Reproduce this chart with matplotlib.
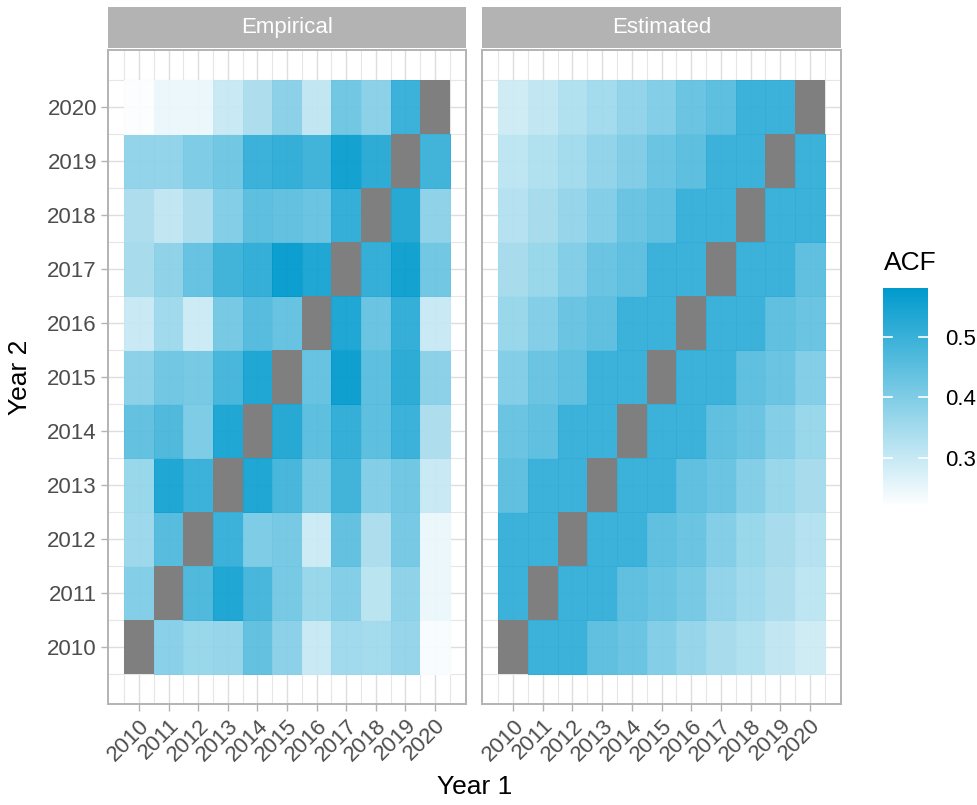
import numpy as np
import matplotlib.pyplot as plt
from matplotlib.colors import ListedColormap, LinearSegmentedColormap, Normalize
from matplotlib.cm import ScalarMappable

plt.rcParams['font.family'] = ['Liberation Sans', 'DejaVu Sans']

years = list(range(2010, 2021))
nan = np.nan

# rows = Year 2 (2010 at the bottom), columns = Year 1
empirical = [
    [nan, 0.395, 0.37, 0.375, 0.45, 0.39, 0.30, 0.36, 0.355, 0.375, 0.23],
    [0.40, nan, 0.48, 0.55, 0.49, 0.42, 0.37, 0.40, 0.32, 0.385, 0.25],
    [0.365, 0.47, nan, 0.51, 0.41, 0.42, 0.295, 0.45, 0.34, 0.42, 0.25],
    [0.37, 0.55, 0.51, nan, 0.55, 0.49, 0.42, 0.50, 0.40, 0.43, 0.30],
    [0.45, 0.48, 0.41, 0.55, nan, 0.54, 0.46, 0.52, 0.46, 0.51, 0.34],
    [0.39, 0.43, 0.42, 0.49, 0.55, nan, 0.445, 0.575, 0.46, 0.53, 0.39],
    [0.30, 0.36, 0.295, 0.42, 0.47, 0.445, nan, 0.55, 0.44, 0.52, 0.30],
    [0.35, 0.385, 0.445, 0.50, 0.52, 0.58, 0.55, nan, 0.52, 0.57, 0.43],
    [0.34, 0.31, 0.34, 0.40, 0.46, 0.45, 0.44, 0.52, nan, 0.54, 0.385],
    [0.38, 0.38, 0.41, 0.43, 0.51, 0.52, 0.50, 0.57, 0.53, nan, 0.50],
    [0.225, 0.25, 0.25, 0.30, 0.34, 0.39, 0.31, 0.43, 0.39, 0.51, nan],
]

estimated = [
    [nan, 0.51, 0.51, 0.455, 0.44, 0.40, 0.375, 0.35, 0.335, 0.31, 0.29],
    [0.51, nan, 0.51, 0.51, 0.455, 0.44, 0.42, 0.38, 0.36, 0.34, 0.315],
    [0.51, 0.51, nan, 0.51, 0.51, 0.455, 0.44, 0.40, 0.37, 0.35, 0.33],
    [0.455, 0.51, 0.51, nan, 0.51, 0.51, 0.455, 0.44, 0.40, 0.37, 0.35],
    [0.44, 0.455, 0.51, 0.51, nan, 0.51, 0.51, 0.455, 0.44, 0.40, 0.37],
    [0.40, 0.44, 0.455, 0.51, 0.51, nan, 0.51, 0.51, 0.455, 0.44, 0.40],
    [0.37, 0.40, 0.44, 0.455, 0.51, 0.51, nan, 0.51, 0.51, 0.455, 0.44],
    [0.35, 0.37, 0.40, 0.44, 0.455, 0.51, 0.51, nan, 0.51, 0.51, 0.455],
    [0.33, 0.35, 0.375, 0.40, 0.44, 0.455, 0.51, 0.51, nan, 0.51, 0.51],
    [0.315, 0.335, 0.355, 0.38, 0.405, 0.44, 0.46, 0.51, 0.51, nan, 0.51],
    [0.29, 0.31, 0.335, 0.355, 0.38, 0.40, 0.44, 0.46, 0.51, 0.51, nan],
]

panels = ['Empirical', 'Estimated']
legend_ticks = [0.3, 0.4, 0.5]

cmap = LinearSegmentedColormap.from_list('acf', ['#FFFFFF', '#009ACD'])

# scale runs a little below the smallest tile so no tile is pure white
allv = np.array(empirical + estimated, float)
norm = Normalize(vmin=0.219, vmax=np.nanmax(allv))

W, H = 977, 805
fig = plt.figure(figsize=(W / 100, H / 100), dpi=100)


def box(l, t, r, b):
    return [l / W, 1 - b / H, (r - l) / W, (b - t) / H]


edges = np.arange(2009.5, 2021.5, 1.0)
axes = [fig.add_axes(box(108, 50, 466, 704)), fig.add_axes(box(482, 50, 841, 704))]
strips = [box(108, 7, 466, 48), box(482, 7, 841, 48)]

for i, (ax, name, data) in enumerate(zip(axes, panels, [empirical, estimated])):
    z = np.array(data, float)
    ax.set_axisbelow(True)
    ax.set_xticks(years)
    ax.set_yticks(years)
    ax.set_xticks(edges, minor=True)
    ax.set_yticks(edges, minor=True)
    ax.grid(which='major', color='#DEDEDE', lw=1.0)
    ax.grid(which='minor', color='#E6E6E6', lw=0.8)
    ax.pcolormesh(edges, edges, np.ma.masked_invalid(z), cmap=cmap, norm=norm,
                  alpha=0.95, edgecolors='face', linewidth=0.4)
    na = np.where(np.isnan(z), 1.0, np.nan)
    ax.pcolormesh(edges, edges, np.ma.masked_invalid(na), cmap=ListedColormap(['#7F7F7F']))
    ax.set_xlim(2008.95, 2021.05)
    ax.set_ylim(2008.95, 2021.05)
    for s in ax.spines.values():
        s.set_color('#B3B3B3')
        s.set_linewidth(1.4)
    ax.tick_params(which='minor', length=0)
    ax.tick_params(which='major', color='#B3B3B3', width=1.0, length=5,
                   labelsize=16, labelcolor='#4D4D4D', pad=3)
    ax.set_xticklabels([str(y) for y in years], rotation=45, ha='right', va='top',
                       rotation_mode='anchor')
    if i == 1:
        ax.tick_params(axis='y', length=0, labelleft=False)

    sax = fig.add_axes(strips[i])
    sax.set_facecolor('#B3B3B3')
    sax.set_xticks([])
    sax.set_yticks([])
    for s in sax.spines.values():
        s.set_visible(False)
    sax.text(0.5, 0.5, name, color='white', fontsize=16, ha='center', va='center',
             transform=sax.transAxes)

fig.text(20 / W, 1 - 377 / H, 'Year 2', rotation=90, fontsize=19, ha='center', va='center')
fig.text(475 / W, 1 - 787 / H, 'Year 1', fontsize=19, ha='center', va='center')

# colour legend
cax = fig.add_axes(box(883, 288, 928, 507))
cb = fig.colorbar(ScalarMappable(norm=norm, cmap=cmap), cax=cax)
cb.outline.set_visible(False)
cb.set_ticks(legend_ticks)
cb.set_ticklabels([str(t) for t in legend_ticks])
cax.tick_params(length=0, labelsize=16, pad=12, labelcolor='black')
for t in legend_ticks:
    cax.plot([0, 0.2], [t, t], color='white', lw=1.2)
    cax.plot([0.8, 1], [t, t], color='white', lw=1.2)
cax.set_xlim(0, 1)
fig.text(884 / W, 1 - 263 / H, 'ACF', fontsize=19, ha='left', va='center')

fig.savefig('out.png', dpi=100)
